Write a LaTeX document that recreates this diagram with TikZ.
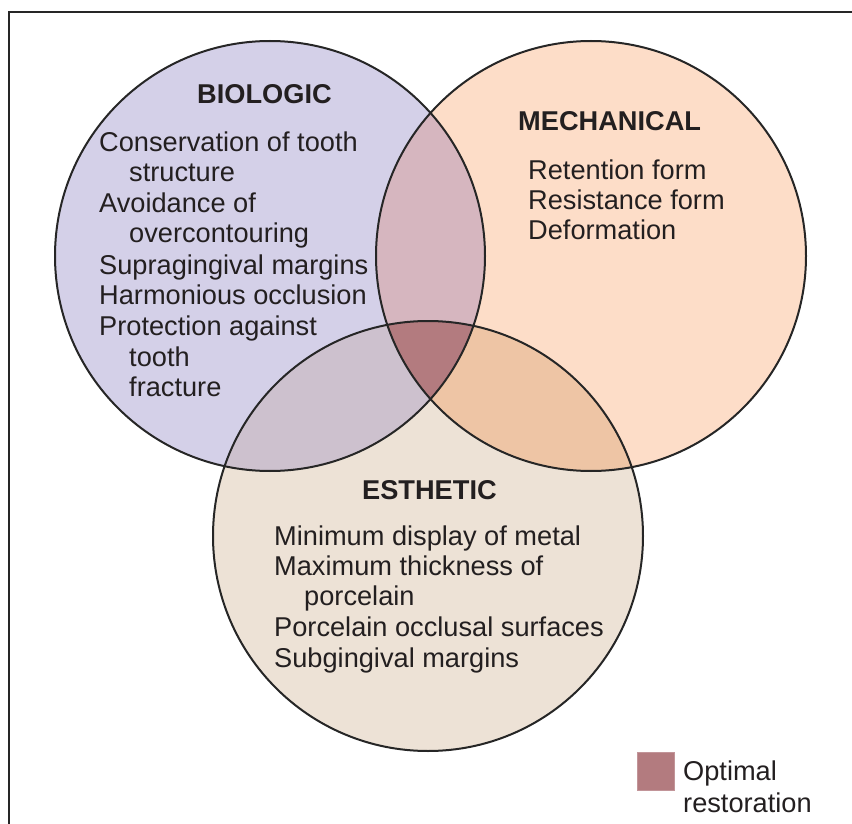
\documentclass[tikz,border=0pt]{standalone}
\usepackage{fontspec}
\setmainfont{Liberation Sans}
\definecolor{bioC}{RGB}{212,208,232}
\definecolor{mecC}{RGB}{253,221,200}
\definecolor{estC}{RGB}{237,226,214}
\definecolor{bmC}{RGB}{214,182,191}
\definecolor{beC}{RGB}{205,193,206}
\definecolor{meC}{RGB}{238,197,165}
\definecolor{optC}{RGB}{179,123,127}
\definecolor{txtC}{RGB}{35,31,32}
\begin{document}
\begin{tikzpicture}[x=1pt,y=-1pt,
  txt/.style={anchor=base west,inner sep=0pt,text=txtC,font=\fontsize{27.2}{31}\selectfont},
  ttl/.style={anchor=base west,inner sep=0pt,text=txtC,font=\fontsize{27.2}{31}\selectfont\bfseries},
  ring/.style={line width=2pt,draw=black!85}]
\useasboundingbox (0,0) rectangle (852,824);
\fill[white] (0,0) rectangle (852,824);
% frame (top and left visible)
\draw[line width=1.8pt,black!85] (9,824) -- (9,12) -- (852,12);
% circles
\def\R{215}
\coordinate (B) at (270,256);
\coordinate (M) at (591,256);
\coordinate (E) at (428,536);
\fill[bioC] (B) circle (\R);
\fill[mecC] (M) circle (\R);
\fill[estC] (E) circle (\R);
\begin{scope}
  \clip (B) circle (\R);
  \fill[bmC] (M) circle (\R);
  \fill[beC] (E) circle (\R);
  \clip (M) circle (\R);
  \fill[optC] (E) circle (\R);
\end{scope}
\begin{scope}
  \clip (M) circle (\R);
  \clip (E) circle (\R);
  \fill[meC] (E) circle (\R);
  \clip (B) circle (\R);
  \fill[optC] (E) circle (\R);
\end{scope}
\draw[ring] (B) circle (\R);
\draw[ring] (M) circle (\R);
\draw[ring] (E) circle (\R);
% Biologic
\node[ttl] (bt) at (197,104) {BIOLOGIC};
\node[txt] (b1) at (99,152) {Conservation of tooth};
\node[txt] (b2) at (129,182) {structure};
\node[txt] (b3) at (99,213) {Avoidance of};
\node[txt] (b4) at (129,243) {overcontouring};
\node[txt] (b5) at (99,274) {Supragingival margins};
\node[txt] (b6) at (99,304) {Harmonious occlusion};
\node[txt] (b7) at (99,335) {Protection against};
\node[txt] (b8) at (129,366) {tooth};
\node[txt] (b9) at (129,396) {fracture};
% Mechanical
\node[ttl] (mt) at (518,131) {MECHANICAL};
\node[txt] (m1) at (528,179) {Retention form};
\node[txt] (m2) at (528,210) {Resistance form};
\node[txt] (m3) at (528,240) {Deformation};
% Esthetic
\node[ttl] (et) at (362,499) {ESTHETIC};
\node[txt] (e1) at (274,545) {Minimum display of metal};
\node[txt] (e2) at (274,575) {Maximum thickness of};
\node[txt] (e3) at (304,605) {porcelain};
\node[txt] (e4) at (274,636) {Porcelain occlusal surfaces};
\node[txt] (e5) at (274,667) {Subgingival margins};
% legend
\node[fill=optC,draw=optC!80!white,line width=0.6pt,minimum width=37pt,minimum height=38pt,inner sep=0pt,anchor=north west] (lg) at (637,752) {};
\node[txt] (l1) at (683,780) {Optimal};
\node[txt] (l2) at (683,812) {restoration};
\end{tikzpicture}
\end{document}
